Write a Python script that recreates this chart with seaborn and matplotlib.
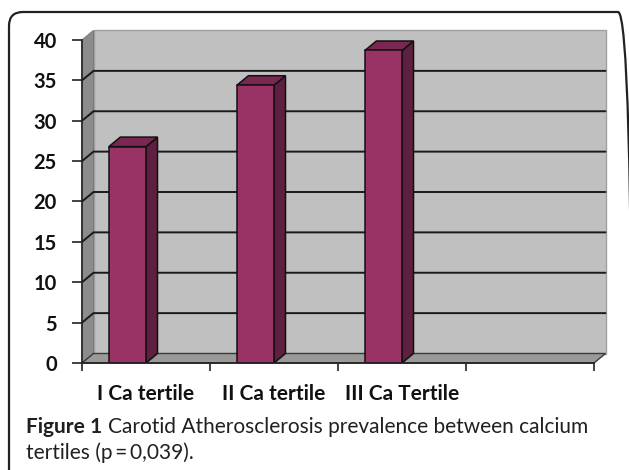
import matplotlib
matplotlib.use("Agg")
import matplotlib.pyplot as plt
import seaborn as sns
import pandas as pd
from matplotlib.patches import Polygon, FancyBboxPatch
from matplotlib.lines import Line2D

categories = ["I Ca tertile", "II Ca tertile", "III Ca Tertile"]
prevalence = [26.8, 34.4, 38.7]
y_ticks = [0, 5, 10, 15, 20, 25, 30, 35, 40]
caption_bold = "Figure 1"
caption_line1 = "Carotid Atherosclerosis prevalence between calcium"
caption_line2 = "tertiles (p\u2009=\u20090,039)."

sns.set_theme(style="white")
plt.rcParams["font.family"] = ["Lato", "DejaVu Sans"]

W, H, DPI = 629, 470, 100
fig = plt.figure(figsize=(W / DPI, H / DPI), dpi=DPI)
fig.patch.set_facecolor("white")
L, R, T, B = 82, 594, 40, 363
ax = fig.add_axes([L / W, 1 - B / H, (R - L) / W, (B - T) / H])
ax.patch.set_alpha(0)

bw = 0.29
s = bw / 2
n_slots = 4
xlim = (s - 0.5, s - 0.5 + n_slots)
ylim = (0, 40)
px_x = (R - L) / n_slots
px_y = (B - T) / (ylim[1] - ylim[0])
ddx = 11.5 / px_x
ddy = 9.5 / px_y

df = pd.DataFrame({"cat": categories, "val": prevalence})
sns.barplot(data=df, x="cat", y="val", color="#993366", saturation=1,
            width=bw, edgecolor="#111111", linewidth=1.1, ax=ax, zorder=5)

# back wall
x0w, x1w = xlim
ax.add_patch(Polygon([(x0w + ddx, ddy), (x1w + ddx, ddy), (x1w + ddx, ylim[1] + ddy),
                      (x0w + ddx, ylim[1] + ddy)], closed=True, facecolor="#c0c0c0",
                     edgecolor="#a0a0a0", lw=1, zorder=1, clip_on=False))
# left wall
ax.add_patch(Polygon([(x0w, 0), (x0w, ylim[1]), (x0w + ddx, ylim[1] + ddy), (x0w + ddx, ddy)],
                     closed=True, facecolor="#8c8c8c", edgecolor="#7a7a7a", lw=0.8,
                     zorder=1.5, clip_on=False))
# floor
ax.add_patch(Polygon([(x0w, 0), (x1w, 0), (x1w + ddx, ddy), (x0w + ddx, ddy)],
                     closed=True, facecolor="#9a9a9a", edgecolor="#3a3a3a", lw=1,
                     zorder=1.5, clip_on=False))
# gridlines
for t in y_ticks[1:-1]:
    ax.add_line(Line2D([x0w, x0w + ddx, x1w + ddx], [t, t + ddy, t + ddy],
                       color="#1a1a1a", lw=1.4, zorder=2, clip_on=False))

# 3D faces of bars
for p in ax.patches:
    if p.get_zorder() != 5:
        continue
    bx0 = p.get_x()
    bx1 = bx0 + p.get_width()
    v = p.get_height()
    ax.add_patch(Polygon([(bx1, 0), (bx1 + ddx, ddy), (bx1 + ddx, v + ddy), (bx1, v)],
                         closed=True, facecolor="#5e1f40", edgecolor="#111111", lw=1.1,
                         zorder=4, clip_on=False))
    ax.add_patch(Polygon([(bx0, v), (bx1, v), (bx1 + ddx, v + ddy), (bx0 + ddx, v + ddy)],
                         closed=True, facecolor="#7a2852", edgecolor="#111111", lw=1.1,
                         zorder=4, clip_on=False))

ax.set_xlim(*xlim)
ax.set_ylim(*ylim)
ax.set_xlabel("")
ax.set_ylabel("")
for sp in ["top", "right"]:
    ax.spines[sp].set_visible(False)
for sp in ["left", "bottom"]:
    ax.spines[sp].set_color("#222222")
    ax.spines[sp].set_linewidth(1.2)
    ax.spines[sp].set_zorder(6)

ax.set_yticks(y_ticks)
ax.set_yticklabels([str(t) for t in y_ticks], fontsize=14.5, fontweight="bold", color="#111111")
ax.tick_params(axis="y", direction="out", length=7, width=1.2, color="#222222", pad=11, left=True)

bounds = [xlim[0] + i for i in range(n_slots + 1)]
ax.set_xticks(bounds)
ax.set_xticklabels([""] * len(bounds))
ax.set_xticks([i + s for i in range(len(categories))], minor=True)
ax.set_xticklabels(categories, minor=True, fontsize=15, fontweight="bold", color="#111111")
ax.tick_params(axis="x", which="major", direction="out", length=6, width=1.2, color="#222222", bottom=True)
ax.tick_params(axis="x", which="minor", length=0, pad=15)

# border
border = FancyBboxPatch((0.09, -0.4), 6.23, 4.98, boxstyle="round,pad=0,rounding_size=0.14",
                        transform=fig.dpi_scale_trans, facecolor="none", edgecolor="#222222",
                        lw=1.6, zorder=0)
fig.patches.append(border)

# caption
cap_color = "#231f20"
t1 = fig.text(26 / W, 1 - 427 / H, caption_bold, fontsize=15, fontweight="bold",
              color=cap_color, va="center", ha="left")
fig.canvas.draw()
bb = t1.get_window_extent(renderer=fig.canvas.get_renderer())
fig.text((bb.x1 + 6) / W, 1 - 427 / H, caption_line1, fontsize=15, color=cap_color,
         va="center", ha="left")
fig.text(26 / W, 1 - 453 / H, caption_line2, fontsize=15, color=cap_color,
         va="center", ha="left")

fig.savefig("out.png", dpi=DPI)
